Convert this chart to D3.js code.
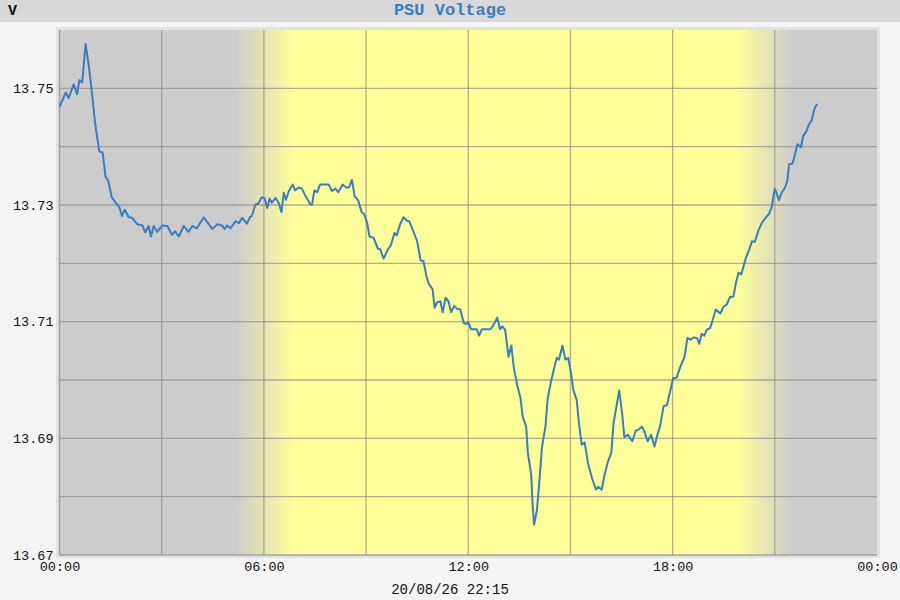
<!DOCTYPE html>
<html>
<head>
<meta charset="utf-8">
<script src="https://cdn.jsdelivr.net/npm/d3@7/dist/d3.min.js"></script>
<style>
  html, body { margin: 0; padding: 0; background: #f4f4f4; }
  svg { display: block; }
</style>
</head>
<body>
<svg id="chart" width="900" height="600"></svg>
<script>
const chartTitle = "PSU Voltage";
const unitLabel = "V";
const stampLabel = "20/08/26 22:15";
const xTickMinutes = [0, 360, 720, 1080, 1440];
const xTickLabels = ["00:00", "06:00", "12:00", "18:00", "00:00"];
const yTickValues = [13.67, 13.69, 13.71, 13.73, 13.75];
const yTickLabels = ["13.67", "13.69", "13.71", "13.73", "13.75"];
const dawnMinutes = [310, 415];
const duskMinutes = [1195, 1292];

const minutes = [
  0, 11, 16, 25, 31, 35, 40, 46, 52, 58,
  63, 70, 76, 81, 86, 92, 99, 106, 110, 115,
  122, 128, 137, 146, 151, 157, 161, 166, 172, 181,
  190, 198, 204, 210, 219, 227, 234, 242, 254, 269,
  278, 286, 291, 295, 301, 310, 316, 322, 330, 336,
  339, 345, 350, 356, 361, 366, 370, 374, 381, 386,
  391, 395, 399, 404, 411, 415, 421, 427, 433, 442,
  445, 449, 454, 459, 474, 480, 486, 491, 499, 505,
  510, 515, 520, 526, 532, 537, 542, 546, 553, 561,
  565, 571, 577, 584, 590, 594, 600, 606, 612, 616,
  622, 630, 636, 641, 647, 651, 657, 661, 665, 671,
  675, 680, 685, 690, 695, 700, 706, 712, 716, 720,
  725, 735, 739, 744, 759, 765, 771, 776, 780, 785,
  791, 796, 800, 806, 812, 816, 822, 825, 831, 833,
  836, 841, 845, 850, 856, 860, 866, 872, 876, 880,
  886, 891, 896, 901, 905, 911, 915, 920, 925, 931,
  938, 945, 949, 955, 960, 966, 972, 976, 982, 986,
  991, 995, 1001, 1009, 1015, 1020, 1026, 1030, 1036, 1042,
  1048, 1054, 1058, 1064, 1070, 1075, 1081, 1087, 1093, 1101,
  1106, 1112, 1117, 1123, 1127, 1131, 1136, 1140, 1146, 1150,
  1156, 1164, 1170, 1175, 1181, 1187, 1191, 1196, 1201, 1205,
  1209, 1215, 1220, 1225, 1231, 1237, 1243, 1250, 1255, 1257,
  1260, 1263, 1267, 1272, 1278, 1282, 1285, 1291, 1294, 1300,
  1306, 1310, 1316, 1320, 1325, 1328, 1331, 1335
];

const volts = [
  13.7468, 13.7493, 13.7483, 13.7507, 13.7490, 13.7514, 13.7510, 13.7576, 13.7536, 13.7485,
  13.7438, 13.7392, 13.7390, 13.7349, 13.7341, 13.7313, 13.7304, 13.7295, 13.7281, 13.7292,
  13.7279, 13.7278, 13.7267, 13.7265, 13.7253, 13.7264, 13.7246, 13.7264, 13.7254, 13.7265,
  13.7264, 13.7249, 13.7255, 13.7246, 13.7264, 13.7254, 13.7264, 13.7260, 13.7279, 13.7259,
  13.7267, 13.7265, 13.7259, 13.7265, 13.7260, 13.7272, 13.7269, 13.7278, 13.7268, 13.7280,
  13.7281, 13.7301, 13.7302, 13.7313, 13.7312, 13.7295, 13.7311, 13.7304, 13.7312, 13.7304,
  13.7288, 13.7321, 13.7309, 13.7324, 13.7335, 13.7325, 13.7330, 13.7328, 13.7316, 13.7301,
  13.7301, 13.7325, 13.7322, 13.7335, 13.7335, 13.7324, 13.7328, 13.7322, 13.7335, 13.7330,
  13.7330, 13.7343, 13.7315, 13.7308, 13.7288, 13.7284, 13.7269, 13.7246, 13.7244, 13.7225,
  13.7224, 13.7208, 13.7221, 13.7232, 13.7252, 13.7248, 13.7267, 13.7279, 13.7273, 13.7272,
  13.7258, 13.7238, 13.7205, 13.7204, 13.7175, 13.7164, 13.7156, 13.7124, 13.7133, 13.7135,
  13.7116, 13.7141, 13.7135, 13.7116, 13.7127, 13.7122, 13.7121, 13.7098, 13.7096, 13.7099,
  13.7087, 13.7087, 13.7076, 13.7087, 13.7087, 13.7095, 13.7107, 13.7087, 13.7092, 13.7086,
  13.7040, 13.7059, 13.7023, 13.6992, 13.6969, 13.6937, 13.6920, 13.6875, 13.6837, 13.6792,
  13.6752, 13.6777, 13.6823, 13.6886, 13.6920, 13.6969, 13.6998, 13.7023, 13.7038, 13.7035,
  13.7059, 13.7035, 13.7038, 13.7012, 13.6983, 13.6966, 13.6926, 13.6889, 13.6893, 13.6857,
  13.6832, 13.6812, 13.6817, 13.6812, 13.6837, 13.6860, 13.6875, 13.6926, 13.6960, 13.6982,
  13.6943, 13.6902, 13.6906, 13.6895, 13.6913, 13.6915, 13.6920, 13.6912, 13.6895, 13.6906,
  13.6886, 13.6909, 13.6921, 13.6955, 13.6957, 13.6978, 13.7003, 13.7004, 13.7021, 13.7040,
  13.7072, 13.7069, 13.7073, 13.7072, 13.7062, 13.7079, 13.7076, 13.7086, 13.7089, 13.7101,
  13.7121, 13.7114, 13.7126, 13.7129, 13.7142, 13.7143, 13.7164, 13.7184, 13.7181, 13.7195,
  13.7209, 13.7224, 13.7238, 13.7237, 13.7256, 13.7269, 13.7277, 13.7285, 13.7298, 13.7312,
  13.7328, 13.7321, 13.7308, 13.7321, 13.7330, 13.7341, 13.7370, 13.7371, 13.7381, 13.7404,
  13.7399, 13.7418, 13.7427, 13.7438, 13.7445, 13.7458, 13.7468, 13.7473
];

const data = minutes.map((m, i) => ({ m: m, v: volts[i] }));

const svg = d3.select("#chart");
const W = 900, H = 600;
const plot = { left: 59.5, right: 877, top: 30, bottom: 555 };
const font = "'Liberation Mono', 'DejaVu Sans Mono', monospace";

const x = d3.scaleLinear().domain([0, 1440]).range([plot.left, plot.right]);
const y = d3.scaleLinear().domain([13.67, 13.76]).range([plot.bottom, plot.top]);

// page background + title bar
svg.append("rect").attr("width", W).attr("height", H).attr("fill", "#f4f4f4");
svg.append("rect").attr("width", W).attr("height", 22).attr("fill", "#d8d8d8");

// day/night gradient
const defs = svg.append("defs");
const grad = defs.append("linearGradient").attr("id", "daylight")
  .attr("gradientUnits", "userSpaceOnUse")
  .attr("x1", x(0)).attr("x2", x(1440)).attr("y1", 0).attr("y2", 0);
const night = "#cccccc", day = "#ffff99";
[[0, night], [dawnMinutes[0], night], [dawnMinutes[1], day],
 [duskMinutes[0], day], [duskMinutes[1], night], [1440, night]].forEach(s => {
  grad.append("stop").attr("offset", s[0] / 1440).attr("stop-color", s[1]);
});

// outer frame
svg.append("rect")
  .attr("x", plot.left - 3.5).attr("y", plot.top - 3)
  .attr("width", plot.right - plot.left + 6.5).attr("height", plot.bottom - plot.top + 6)
  .attr("fill", "#e2e2e2");

svg.append("rect")
  .attr("x", x(0)).attr("y", y(13.76))
  .attr("width", x(1440) - x(0)).attr("height", y(13.67) - y(13.76))
  .attr("fill", "url(#daylight)");

// grid
const grid = svg.append("g").attr("stroke", "#8c8c8c").attr("stroke-opacity", 0.7).attr("stroke-width", 1.3);
d3.range(180, 1440, 180).forEach(m => {
  grid.append("line").attr("x1", x(m)).attr("x2", x(m)).attr("y1", y(13.76)).attr("y2", y(13.67));
});
d3.range(1, 9).forEach(k => {
  const v = 13.67 + k * 0.01;
  grid.append("line").attr("x1", x(0)).attr("x2", x(1440)).attr("y1", y(v)).attr("y2", y(v));
});

// axis lines
svg.append("line").attr("x1", x(0)).attr("x2", x(0)).attr("y1", y(13.76)).attr("y2", y(13.67))
  .attr("stroke", "#a0a0a0").attr("stroke-width", 1.5);
svg.append("line").attr("x1", x(0)).attr("x2", x(1440)).attr("y1", y(13.67)).attr("y2", y(13.67))
  .attr("stroke", "#a0a0a0").attr("stroke-width", 1.5);

// line
const line = d3.line().x(d => x(d.m)).y(d => y(d.v));
svg.append("path").datum(data)
  .attr("d", line)
  .attr("fill", "none")
  .attr("stroke", "#3a7dbf")
  .attr("stroke-width", 2)
  .attr("stroke-linejoin", "round");

// axes
const xAxis = d3.axisBottom(x).tickValues(xTickMinutes)
  .tickFormat((d, i) => xTickLabels[i]).tickSize(0).tickPadding(6);
const gx = svg.append("g").attr("transform", `translate(0,${plot.bottom})`).call(xAxis);
gx.select(".domain").remove();
gx.selectAll("text").attr("font-family", font).attr("font-size", 13.5).attr("fill", "#111");

const yAxis = d3.axisLeft(y).tickValues(yTickValues)
  .tickFormat((d, i) => yTickLabels[i]).tickSize(0).tickPadding(6);
const gy = svg.append("g").attr("transform", `translate(${plot.left},0)`).call(yAxis);
gy.select(".domain").remove();
gy.selectAll("text").attr("font-family", font).attr("font-size", 13.5).attr("fill", "#111");

// texts
svg.append("text").attr("x", 450).attr("y", 15).attr("text-anchor", "middle")
  .attr("font-family", font).attr("font-size", 17).attr("font-weight", "bold")
  .attr("fill", "#3a7dbf").text(chartTitle);
svg.append("text").attr("x", 8).attr("y", 15)
  .attr("font-family", font).attr("font-size", 15).attr("font-weight", "bold")
  .attr("fill", "#111").text(unitLabel);
svg.append("text").attr("x", 450).attr("y", 594).attr("text-anchor", "middle")
  .attr("font-family", font).attr("font-size", 14)
  .attr("fill", "#111").text(stampLabel);
</script>
</body>
</html>
